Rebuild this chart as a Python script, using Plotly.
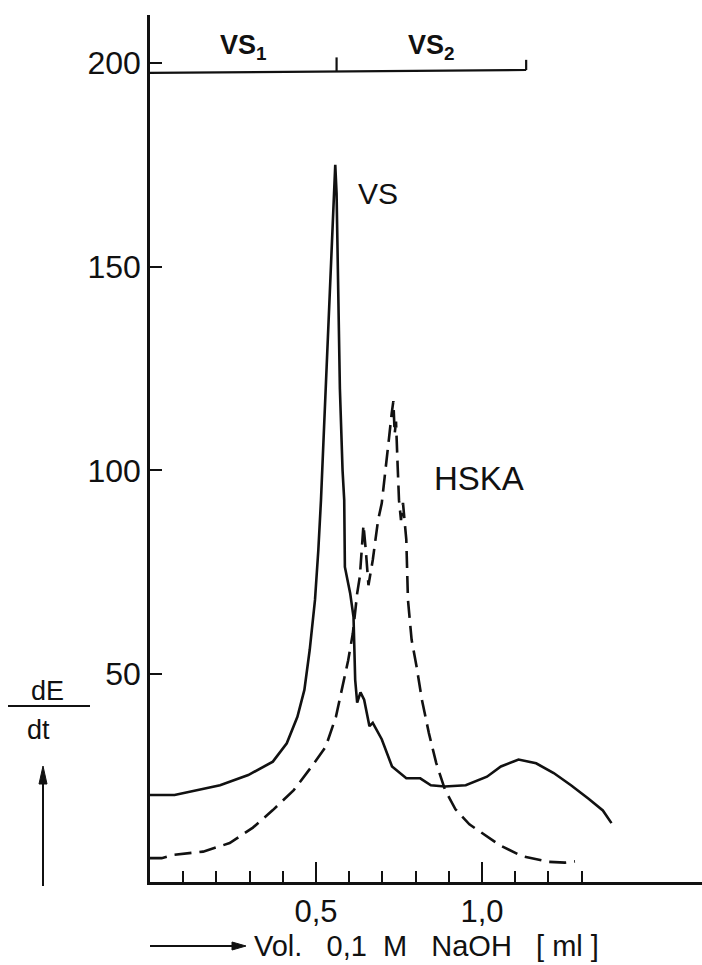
import plotly.graph_objects as go

# ---- data ----
vs_x = [0, 0.074, 0.211, 0.296, 0.37, 0.412, 0.444, 0.465, 0.481, 0.497, 0.507, 0.515,
        0.525, 0.535, 0.545, 0.553, 0.558, 0.562, 0.566, 0.572, 0.58, 0.585, 0.587,
        0.603, 0.613, 0.615, 0.618, 0.624, 0.634, 0.645, 0.661, 0.671, 0.698, 0.729,
        0.772, 0.814, 0.846, 0.888, 0.951, 1.015, 1.057, 1.11, 1.163, 1.216, 1.268,
        1.321, 1.364, 1.39]
vs_y = [20.3, 20.3, 22.7, 25.2, 28.5, 33, 39.5, 46.1, 55.9, 68.2, 80.4, 92.7,
        112, 132, 152, 167, 175, 168, 145, 120, 100, 92.7, 76.3,
        69.8, 64, 55.9, 48.6, 43, 45.5, 43.7, 37.2, 38, 34, 27.3,
        24.4, 24.4, 22.7, 22.4, 22.7, 24.8, 27.3, 29, 28.1, 25.7, 22.7,
        19.4, 16.5, 13.4]

hska_x = [0, 0.035, 0.07, 0.16, 0.24, 0.31, 0.37, 0.433, 0.486, 0.529, 0.56, 0.581, 0.597,
          0.611, 0.624, 0.632, 0.64, 0.643, 0.65, 0.658, 0.671, 0.687, 0.698, 0.71,
          0.72, 0.728, 0.733, 0.737, 0.741, 0.746, 0.75, 0.756, 0.762, 0.772, 0.777,
          0.788, 0.803, 0.819, 0.84, 0.862, 0.888, 0.92, 0.962, 1.053, 1.12, 1.2,
          1.25, 1.28]
hska_y = [4.8, 4.8, 5.6, 6.4, 8.5, 12.3, 16.6, 21.5, 27.2, 32.1, 39.5, 47.7, 53.4,
          60, 69.8, 73.9, 84.5, 86.6, 80.4, 71.8, 78, 87.8, 91.9, 100,
          108, 114, 117, 109, 112, 101, 92.7, 87.8, 92, 83, 68.2,
          58.4, 51.8, 43.7, 35.5, 28.2, 21.7, 16.8, 13.1, 8, 5.3, 3.9,
          3.7, 4.0]

vs_bounds = [0, 0.562, 1.133]       # VS1 / VS2 ranges
vs_levels = [197.6, 198.0, 198.3]
vs_labels = ["VS<sub>1</sub>", "VS<sub>2</sub>"]

y_ticks = [50, 100, 150, 200]
x_major = [0.5, 1.0]
x_major_text = ["0,5", "1,0"]
x_minor = [round(0.1 * i, 1) for i in range(1, 14)]

x_title = "Vol.\u00a0\u00a0\u00a00,1\u00a0\u00a0M\u00a0\u00a0\u00a0NaOH\u00a0\u00a0\u00a0[\u00a0ml\u00a0]"

# ---- layout geometry ----
W, H = 702, 965
L, R, T, B = 150, 0, 15, 83
PW, PH = W - L - R, H - T - B
BOT = H - B


def px(x):
    return (x - L) / PW


def py(y):
    return (BOT - y) / PH


FONT = "Liberation Sans, Arial, sans-serif"
BLACK = "#111111"

fig = go.Figure()
fig.add_trace(go.Scatter(x=vs_x, y=vs_y, mode="lines",
                         line=dict(color=BLACK, width=2.6), showlegend=False))
fig.add_trace(go.Scatter(x=hska_x, y=hska_y, mode="lines",
                         line=dict(color=BLACK, width=2.6, dash="17px,8px"),
                         showlegend=False))

# VS1 / VS2 bracket line at the top
fig.add_trace(go.Scatter(x=vs_bounds, y=vs_levels, mode="lines",
                         line=dict(color=BLACK, width=2.2), showlegend=False))
tick_x, tick_y = [], []
for bx, by, h in zip(vs_bounds[1:], vs_levels[1:], [3.4, 2.5]):
    tick_x += [bx, bx, None]
    tick_y += [by, by + h, None]
fig.add_trace(go.Scatter(x=tick_x, y=tick_y, mode="lines",
                         line=dict(color=BLACK, width=2.2), showlegend=False))
for i, lab in enumerate(vs_labels):
    cx = (vs_bounds[i] + vs_bounds[i + 1]) / 2
    fig.add_annotation(x=cx, y=204, text="<b>" + lab + "</b>", showarrow=False,
                       xanchor="center", yanchor="middle",
                       font=dict(family=FONT, size=27, color=BLACK))

# curve labels
fig.add_annotation(x=0.62, y=168, text="VS", xanchor="left", yanchor="middle",
                   showarrow=False, font=dict(family=FONT, size=30, color=BLACK))
fig.add_annotation(x=0.85, y=98, text="HSKA", xanchor="left", yanchor="middle",
                   showarrow=False, font=dict(family=FONT, size=33, color=BLACK))

# y-axis label dE/dt with upward arrow
fig.add_annotation(xref="paper", yref="paper", x=px(47), y=py(691), text="dE",
                   xanchor="center", yanchor="middle", showarrow=False,
                   font=dict(family=FONT, size=27, color=BLACK))
fig.add_annotation(xref="paper", yref="paper", x=px(38), y=py(730), text="dt",
                   xanchor="center", yanchor="middle", showarrow=False,
                   font=dict(family=FONT, size=27, color=BLACK))
fig.add_shape(type="line", xref="paper", yref="paper", x0=px(8), x1=px(90),
              y0=py(706), y1=py(706), line=dict(color=BLACK, width=2))
# upward arrow: shaft + head
fig.add_shape(type="line", xref="paper", yref="paper", x0=px(43), x1=px(43),
              y0=py(886), y1=py(780), line=dict(color=BLACK, width=2))
fig.add_shape(type="path", xref="paper", yref="paper",
              path="M {a},{b} L {c},{d} L {e},{f} Z".format(
                  a=px(39), b=py(784), c=px(43), d=py(766), e=px(47), f=py(784)),
              fillcolor=BLACK, line=dict(color=BLACK, width=1))

# x-axis label with right arrow
fig.add_shape(type="line", xref="paper", yref="paper", x0=px(150), x1=px(236),
              y0=py(946), y1=py(946), line=dict(color=BLACK, width=2))
fig.add_shape(type="path", xref="paper", yref="paper",
              path="M {a},{b} L {c},{d} L {e},{f} Z".format(
                  a=px(232), b=py(942), c=px(246), d=py(946), e=px(232), f=py(950)),
              fillcolor=BLACK, line=dict(color=BLACK, width=1))
fig.add_annotation(xref="paper", yref="paper", x=px(252), y=py(946),
                   text=x_title, xanchor="left", yanchor="middle", showarrow=False,
                   font=dict(family=FONT, size=29, color=BLACK))

fig.update_layout(
    width=W, height=H,
    margin=dict(l=L, r=R, t=T, b=B),
    paper_bgcolor="white", plot_bgcolor="white",
    xaxis=dict(range=[0, PW / 332.0], showgrid=False, zeroline=False,
               showline=True, linecolor=BLACK, linewidth=2.6,
               tickmode="array", tickvals=x_major, ticktext=x_major_text,
               ticks="inside", ticklen=20, tickwidth=2.2, tickcolor=BLACK,
               tickfont=dict(family=FONT, size=31, color=BLACK),
               minor=dict(tickmode="array", tickvals=x_minor, ticks="inside",
                          ticklen=11, tickwidth=2.2, tickcolor=BLACK, showgrid=False)),
    yaxis=dict(range=[(877.7 - BOT) / 4.073, (877.7 - T) / 4.073],
               showgrid=False, zeroline=False,
               showline=True, linecolor=BLACK, linewidth=2.6,
               tickmode="array", tickvals=y_ticks,
               ticks="inside", ticklen=12, tickwidth=2.2, tickcolor=BLACK,
               tickfont=dict(family=FONT, size=32, color=BLACK)),
)

fig.write_html("out.html")
